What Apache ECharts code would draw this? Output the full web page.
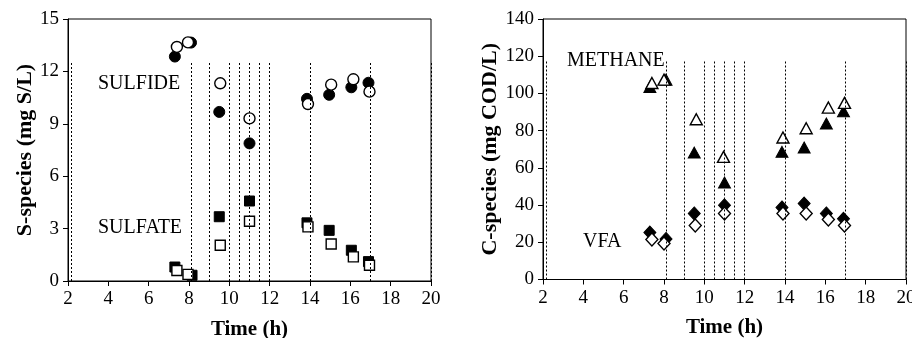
<!DOCTYPE html>
<html><head><meta charset="utf-8">
<script src="https://cdn.jsdelivr.net/npm/echarts@6/dist/echarts.min.js"></script>
<style>html,body{margin:0;padding:0;background:#fff}#c{width:912px;height:338px}</style>
</head><body><div id="c"></div>
<script>
// Left panel: S-species (mg S/L)
var sulfideFilledX = [7.3, 8.1, 9.5, 11.0, 13.85, 14.95, 16.05, 16.9];
var sulfideFilledY = [12.85, 13.65, 9.68, 7.88, 10.43, 10.66, 11.09, 11.35];
var sulfideOpenX = [7.4, 7.95, 9.55, 11.0, 13.9, 15.05, 16.15, 16.95];
var sulfideOpenY = [13.4, 13.66, 11.32, 9.31, 10.13, 11.24, 11.55, 10.84];
var sulfateFilledX = [7.3, 8.15, 9.5, 11.0, 13.85, 14.95, 16.05, 16.9];
var sulfateFilledY = [0.8, 0.33, 3.68, 4.58, 3.33, 2.9, 1.76, 1.11];
var sulfateOpenX = [7.4, 7.95, 9.55, 11.0, 13.9, 15.05, 16.15, 16.95];
var sulfateOpenY = [0.6, 0.38, 2.05, 3.42, 3.1, 2.12, 1.38, 0.9];
// Right panel: C-species (mg COD/L)
var methaneFilledX = [7.3, 8.1, 9.5, 11.0, 13.85, 14.95, 16.05, 16.9];
var methaneFilledY = [103.5, 107.4, 68.2, 52.1, 68.6, 70.9, 83.8, 90.4];
var methaneOpenX = [7.4, 8.0, 9.6, 10.95, 13.9, 15.05, 16.15, 16.95];
var methaneOpenY = [105.6, 107.4, 86.1, 65.9, 76.3, 81.3, 92.4, 94.9];
var vfaFilledX = [7.3, 8.1, 9.5, 11.0, 13.85, 14.95, 16.05, 16.9];
var vfaFilledY = [25.2, 21.8, 35.5, 39.9, 38.7, 40.8, 35.5, 32.6];
var vfaOpenX = [7.4, 8.0, 9.55, 11.0, 13.9, 15.05, 16.15, 16.95];
var vfaOpenY = [21.5, 19.3, 29, 35.5, 35.5, 35.5, 32.2, 29];
// Vertical dotted event lines (h) and their tops
var eventTimes = [2.15, 8.13, 9, 10, 10.5, 11, 11.5, 12, 14, 17, 20];
var leftLineTop = 12.57;
var rightLineTop = 117.3;

var FONT = '"Liberation Serif", "Times New Roman", serif';

function zip(xs, ys){ return xs.map(function(x,i){ return [x, ys[i]]; }); }
function vlines(top){
  return eventTimes.map(function(t){ return [{coord:[t,0]},{coord:[t,top]}]; });
}
function xAxis(gi){
  return {
    gridIndex: gi, type:'value', min:2, max:20, interval:2,
    name:'Time (h)', nameLocation:'middle', nameGap:38,
    nameTextStyle:{fontFamily:FONT, fontWeight:'bold', fontSize:21, color:'#000'},
    axisLine:{onZero:false, lineStyle:{color:'#000', width:1}},
    axisTick:{show:true, inside:false, length:5, lineStyle:{color:'#000'}},
    axisLabel:{fontFamily:FONT, fontSize:19, color:'#000', margin:9},
    splitLine:{show:false}
  };
}
function yAxis(gi, max, interval, name){
  return {
    gridIndex: gi, type:'value', min:0, max:max, interval:interval,
    name:name, nameLocation:'middle', nameGap:gi===0?32:31,
    nameTextStyle:{fontFamily:FONT, fontWeight:'bold', fontSize:22, color:'#000'},
    axisLine:{show:true, lineStyle:{color:'#000', width:1}},
    axisTick:{show:true, inside:false, length:5, lineStyle:{color:'#000'}},
    axisLabel:{fontFamily:FONT, fontSize:19, color:'#000', margin:9},
    splitLine:{show:false}
  };
}
function sc(gi, data, symbol, size, filled, extra){
  var s = {
    type:'scatter', xAxisIndex:gi, yAxisIndex:gi, data:data,
    symbol:symbol, symbolSize:size, z: filled?3:4,
    itemStyle: filled ? {color:'#000', borderColor:'#000', borderWidth:1, opacity:1}
                      : {color:'#fff', borderColor:'#000', borderWidth:1.4, opacity:1},
    emphasis:{disabled:true}, silent:true, animation:false
  };
  if (extra) for (var k in extra) s[k]=extra[k];
  return s;
}
function ml(top){
  return {
    silent:true, symbol:['none','none'], animation:false,
    label:{show:false}, z:10,
    lineStyle:{color:'#000', type:[2,2], width:1},
    data: vlines(top)
  };
}
var tri = 'path://M50,0 L100,90 L0,90 Z';
var chart = echarts.init(document.getElementById('c'));
chart.setOption({
  backgroundColor:'#fff',
  animation:false,
  grid:[
    {left:68, top:19, width:363, height:262, show:true, borderColor:'#000', borderWidth:1, backgroundColor:'transparent', containLabel:false, outerBoundsMode:'none'},
    {left:543, top:19, width:363, height:260.5, show:true, borderColor:'#000', borderWidth:1, backgroundColor:'transparent', containLabel:false, outerBoundsMode:'none'}
  ],
  xAxis:[xAxis(0), xAxis(1)],
  yAxis:[yAxis(0, 15, 3, 'S-species (mg S/L)'), yAxis(1, 140, 20, 'C-species (mg COD/L)')],
  graphic:[
    {type:'text', left:98, top:74, style:{text:'SULFIDE', font:'20px ' + FONT, fill:'#000'}},
    {type:'text', left:98, top:218, style:{text:'SULFATE', font:'20px ' + FONT, fill:'#000'}},
    {type:'text', left:567, top:51, style:{text:'METHANE', font:'20px ' + FONT, fill:'#000'}},
    {type:'text', left:583, top:232, style:{text:'VFA', font:'20px ' + FONT, fill:'#000'}}
  ],
  series:[
    sc(0, zip(sulfideFilledX, sulfideFilledY), 'circle', 11, true, {markLine: ml(leftLineTop)}),
    sc(0, zip(sulfideOpenX, sulfideOpenY), 'circle', 11, false),
    sc(0, zip(sulfateFilledX, sulfateFilledY), 'rect', 10, true),
    sc(0, zip(sulfateOpenX, sulfateOpenY), 'rect', 10, false),
    sc(1, zip(methaneFilledX, methaneFilledY), tri, [12, 11], true, {markLine: ml(rightLineTop)}),
    sc(1, zip(methaneOpenX, methaneOpenY), tri, [12, 11], false),
    sc(1, zip(vfaFilledX, vfaFilledY), 'diamond', [12, 13], true),
    sc(1, zip(vfaOpenX, vfaOpenY), 'diamond', [12, 13], false)
  ]
});
</script>
</body></html>
